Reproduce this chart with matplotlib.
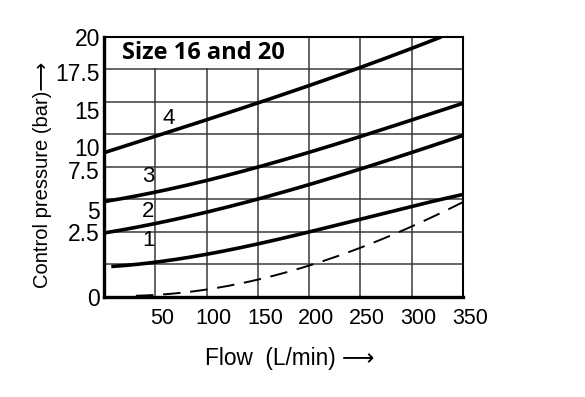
import numpy as np
import matplotlib.pyplot as plt
import matplotlib.transforms as mtransforms
from matplotlib.patches import Rectangle

plt.rcParams['font.family'] = ['Liberation Sans', 'DejaVu Sans']

# curve data (flow in L/min, control pressure in chart units)
flow = [0, 50, 100, 150, 200, 250, 300, 350]
curve_1_x = [7, 50, 100, 150, 200, 250, 300, 350]
curve_1 = [2.35, 2.68, 3.24, 4.08, 5.05, 6.0, 6.89, 7.91]
curve_2 = [4.92, 5.66, 6.5, 7.53, 8.67, 9.82, 11.1, 12.42]
curve_3 = [7.35, 8.04, 8.93, 10.03, 11.15, 12.3, 13.6, 14.9]
curve_4_x = [0, 50, 100, 150, 200, 250, 300, 329]
curve_4 = [11.1, 12.37, 13.57, 14.97, 16.28, 17.6, 19.13, 20.0]
dashed_x = [31, 50, 100, 150, 200, 250, 300, 350]
dashed = [0.0, 0.26, 0.64, 1.22, 2.4, 3.83, 5.43, 7.27]

curve_labels = ['1', '2', '3', '4']
curve_label_x = [43, 43, 43, 63]
curve_label_y = [4.34, 6.58, 9.23, 13.7]

x_ticks = [50, 100, 150, 200, 250, 300, 350]
y_tick_pos = [0, 5.0, 6.72, 9.77, 11.56, 14.4, 17.33, 20]
y_tick_labels = ['0', '2.5', '5', '7.5', '10', '15', '17.5', '20']
grid_x = [50, 100, 150, 200, 250, 300]
grid_y = [2.5, 5, 7.5, 10, 12.5, 15, 17.5]


def smooth(x, y, n=200):
    xs = np.linspace(x[0], x[-1], n)
    coef = np.polyfit(x, y, 3)
    return xs, np.polyval(coef, xs)


fig = plt.figure(figsize=(5.85, 3.97), dpi=100)
ax = fig.add_axes([0.178, 0.252, 0.613, 0.655])

for gx in grid_x:
    ax.axvline(gx, color='#3a3a3a', lw=1.1, zorder=0.5)
for gy in grid_y:
    ax.axhline(gy, color='#3a3a3a', lw=1.1, zorder=0.5)

# white box behind the title
ax.add_patch(Rectangle((0, 17.6), 192, 2.4, facecolor='white', edgecolor='none', zorder=1))
ax.text(17, 18.75, 'Size 16 and 20', fontsize=17, fontweight='bold',
        family=['Open Sans', 'DejaVu Sans'], va='center', ha='left', zorder=2)

for x, y in [(curve_1_x, curve_1), (flow, curve_2), (flow, curve_3), (curve_4_x, curve_4)]:
    xs, ys = smooth(x, y)
    ax.plot(xs, ys, color='black', lw=2.6, solid_capstyle='butt', zorder=3)

xs, ys = smooth(dashed_x, dashed)
ax.plot(xs, np.clip(ys, 0, None), color='black', lw=1.4, dashes=(9, 5), zorder=3)

for lab, lx, ly in zip(curve_labels, curve_label_x, curve_label_y):
    ax.text(lx, ly, lab, fontsize=16, ha='center', va='center', zorder=2)

ax.set_xlim(0, 350)
ax.set_ylim(0, 20)
ax.set_xticks(x_ticks)
ax.set_xticklabels([str(v) for v in x_ticks], fontsize=15.5)
ax.set_yticks(y_tick_pos)
ax.set_yticklabels(y_tick_labels, fontsize=16.5)
ax.tick_params(length=0)
ax.tick_params(axis='x', pad=8)
ax.tick_params(axis='y', pad=3)
offset = mtransforms.ScaledTranslation(7 / 100, 0, fig.dpi_scale_trans)
for lbl in ax.get_xticklabels():
    lbl.set_transform(lbl.get_transform() + offset)

ax.spines['left'].set_linewidth(2.4)
ax.spines['bottom'].set_linewidth(2.4)
ax.spines['top'].set_linewidth(1.5)
ax.spines['right'].set_linewidth(1.5)

fig.text(0.495, 0.098, 'Flow  (L/min) \u27f6', fontsize=16.3, ha='center', va='center')
fig.text(0.072, 0.56, 'Control pressure (bar)\u27f6', fontsize=14.5, rotation=90,
         ha='center', va='center')

fig.savefig('out.png', dpi=100)
